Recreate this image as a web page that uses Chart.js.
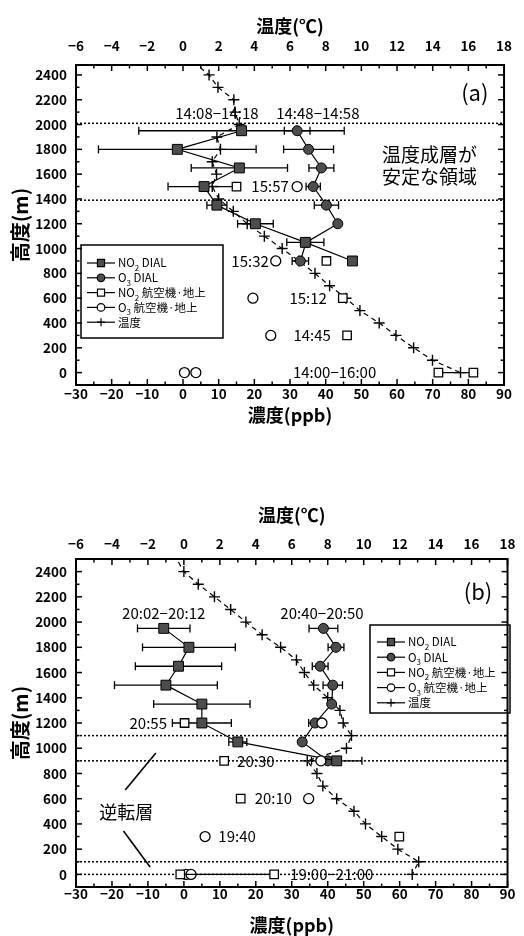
<!DOCTYPE html>
<html>
<head>
<meta charset="utf-8">
<script src="https://cdn.jsdelivr.net/npm/chart.js@4.4.1/dist/chart.umd.min.js"></script>
<style>
html, body { margin: 0; padding: 0; background: #fff; }
.panel { position: absolute; left: 0; width: 524px; height: 468px; }
#pa { top: 0; }
#pb { top: 468px; }
</style>
</head>
<body>
<div class="panel" id="pa"><canvas id="chartA" width="524" height="468"></canvas></div>
<div class="panel" id="pb"><canvas id="chartB" width="524" height="468"></canvas></div>
<script>
const FONT = "'Noto Sans CJK JP', 'Noto Sans', sans-serif";

// 目盛り
const concTicks = [-30, -20, -10, 0, 10, 20, 30, 40, 50, 60, 70, 80, 90];
const tempTicks = [-6, -4, -2, 0, 2, 4, 6, 8, 10, 12, 14, 16, 18];
const heightTicks = [0, 200, 400, 600, 800, 1000, 1200, 1400, 1600, 1800, 2000, 2200, 2400];

// 高度 (m)
const dialHeights = [1950, 1800, 1650, 1500, 1350, 1200, 1050, 900];
const tempHeights = [2600, 2400, 2300, 2200, 2100, 2000, 1900, 1800, 1700, 1600, 1500, 1400, 1300,
                     1200, 1100, 1000, 900, 800, 700, 600, 500, 400, 300, 200, 100, 0];

// (a) 昼間
const no2DialA    = [16.4, -1.6, 15.8, 5.9, 9.5, 20.3, 34.3, 47.5];
const no2DialErrA = [28.8, 22.1, 13.5, 10.1, 2.8, 5.0, 5.2, 0];
const o3DialA     = [32.0, 35.2, 38.8, 36.5, 40.2, 43.4, 34.5, 32.9];
const o3DialErrA  = [3.6, 7.0, 3.5, 2.0, 3.4, 0, 0, 2.3];
const no2AirHA    = [1500, 900, 600, 300];
const no2AirA     = [15.0, 40.2, 44.8, 46.0];
const no2GroundA  = [71.6, 81.4];
const o3AirHA     = [1500, 900, 600, 300, 0, 0];
const o3AirA      = [32.0, 26.0, 19.6, 24.6, 0.4, 3.6];
const tempA = [-0.2, 1.46, 1.96, 2.85, 2.92, 3.15, 1.9, 2.1, 1.64, 1.88, 1.64, 2.0, 2.82,
               3.6, 4.56, 5.56, 6.5, 7.4, 8.22, 9.14, 9.92, 11.0, 11.94, 12.93, 13.99, 15.56];

// (b) 夜間
const no2DialB    = [-5.6, 1.4, -1.5, -5.0, 5.0, 5.0, 15.0, 42.5];
const no2DialErrB = [7.3, 12.9, 12.0, 14.3, 13.4, 8.2, 2.5, 7.0];
const o3DialB     = [38.8, 42.3, 37.9, 41.4, 41.1, 36.5, 32.9, 40.0];
const o3DialErrB  = [4.0, 2.2, 2.2, 2.7, 0, 1.8, 0, 0];
const no2AirHB    = [1200, 900, 600, 300];
const no2AirB     = [0.2, 11.2, 15.8, 59.9];
const no2GroundB  = [-1.0, 25.1];
const o3AirHB     = [1200, 900, 600, 300, 0, 0];
const o3AirB      = [38.4, 38.1, 34.7, 5.9, 0.6, 2.0];
const tempB = [-0.8, 0.0, 0.8, 1.7, 2.6, 3.45, 4.35, 5.38, 6.26, 6.7, 7.22, 8.0, 8.68,
               8.86, 9.32, 9.04, 6.86, 7.4, 7.73, 8.5, 9.46, 10.1, 11.0, 11.9, 13.06, 12.7];

// 注記 (濃度, 高度)
const notesA = [
  { text: '14:08−14:18', x: 9.5, y: 2093 },
  { text: '14:48−14:58', x: 37.8, y: 2093 },
  { text: '15:57', x: 24.4, y: 1500 },
  { text: '15:32', x: 18.8, y: 900 },
  { text: '15:12', x: 35.1, y: 600 },
  { text: '14:45', x: 36.2, y: 300 },
  { text: '14:00−16:00', x: 42.5, y: 5 },
  { text: '(a)', x: 81.8, y: 2255, size: 22 },
  { text: '温度成層が', x: 69.1, y: 1755, size: 19 },
  { text: '安定な領域', x: 69.1, y: 1577, size: 19 }
];
const notesB = [
  { text: '20:02−20:12', x: -5.6, y: 2073 },
  { text: '20:40−20:50', x: 38.4, y: 2073 },
  { text: '20:55', x: -9.9, y: 1200 },
  { text: '20:30', x: 20.0, y: 900 },
  { text: '20:10', x: 24.9, y: 600 },
  { text: '19:40', x: 14.8, y: 300 },
  { text: '19:00−21:00', x: 41.1, y: 0 },
  { text: '(b)', x: 81.8, y: 2239, size: 22 },
  { text: '逆転層', x: -16, y: 495, size: 18 }
];
const refLinesA = [2010, 1390];
const refLinesB = [1100, 900, 100, 0];
const pointersB = [[-16.3, 669, -7.8, 962], [-16.8, 344, -9.4, 59]];

const legendItems = [
  { parts: ['NO', '2', ' DIAL'], style: 'rect', fill: '#4d4d4d', r: 5 },
  { parts: ['O', '3', ' DIAL'], style: 'circle', fill: '#4d4d4d', r: 3.8 },
  { parts: ['NO', '2', ' 航空機·地上'], style: 'rect', fill: '#fff', r: 5 },
  { parts: ['O', '3', ' 航空機·地上'], style: 'circle', fill: '#fff', r: 3.8 },
  { parts: ['温度', '', ''], style: 'cross', fill: '#fff', r: 4 }
];

function line(ctx, x1, y1, x2, y2) {
  ctx.beginPath();
  ctx.moveTo(x1, y1);
  ctx.lineTo(x2, y2);
  ctx.stroke();
}

const fmt = v => String(v).replace('-', '−');
const pts = (xs, ys) => xs.map((v, i) => ({ x: v, y: ys[i] }));

function buildPanel(id, p) {
  const dial = {
    showLine: true, borderColor: '#000', borderWidth: 1.2,
    pointBackgroundColor: '#4d4d4d', pointBorderColor: '#000', pointBorderWidth: 1, order: 2
  };
  const air = {
    borderColor: '#000', borderWidth: 1.2,
    pointBackgroundColor: '#fff', pointBorderColor: '#000', pointBorderWidth: 1.3, order: 1
  };
  const datasets = [
    Object.assign({ data: pts(p.no2Dial, dialHeights), pointStyle: 'rect', pointRadius: 7 }, dial),
    Object.assign({ data: pts(p.o3Dial, dialHeights), pointStyle: 'circle', pointRadius: 5 }, dial),
    Object.assign({ data: pts(p.no2Air, p.no2AirH), showLine: false, pointStyle: 'rect', pointRadius: 6 }, air),
    Object.assign({ data: pts(p.no2Ground, [0, 0]), showLine: true, pointStyle: 'rect', pointRadius: 6 }, air),
    Object.assign({ data: pts(p.o3Air, p.o3AirH), showLine: false, pointStyle: 'circle', pointRadius: 5 }, air),
    {
      data: pts(p.temp, tempHeights), xAxisID: 'x2', showLine: true, order: 3, clip: 0,
      borderColor: '#000', borderWidth: 1.2, borderDash: [5, 4],
      pointStyle: 'cross', pointRadius: 5.5, pointBorderColor: '#000', pointBorderWidth: 1.4
    }
  ];

  const decor = {
    id: 'decor' + id,
    beforeDatasetsDraw(chart) {
      const { ctx, chartArea: a } = chart;
      const sx = chart.scales.x, sy = chart.scales.y;
      ctx.save();
      ctx.strokeStyle = '#000';
      ctx.lineWidth = 1.3;
      [[p.no2Dial, p.no2Err], [p.o3Dial, p.o3Err]].forEach(([vals, errs]) => {
        vals.forEach((v, i) => {
          if (!errs[i]) return;
          const y = sy.getPixelForValue(dialHeights[i]);
          const x1 = sx.getPixelForValue(v - errs[i]);
          const x2 = sx.getPixelForValue(v + errs[i]);
          line(ctx, x1, y, x2, y);
          line(ctx, x1, y - 4, x1, y + 4);
          line(ctx, x2, y - 4, x2, y + 4);
        });
      });
      ctx.setLineDash([2, 2]);
      ctx.lineWidth = 1.5;
      p.refLines.forEach(h => {
        const y = sy.getPixelForValue(h);
        line(ctx, a.left, y, a.right, y);
      });
      ctx.restore();
    },
    afterDatasetsDraw(chart) {
      const { ctx } = chart;
      const sx = chart.scales.x, sy = chart.scales.y;
      ctx.save();
      ctx.fillStyle = '#000';
      ctx.strokeStyle = '#000';
      ctx.textAlign = 'center';
      ctx.textBaseline = 'middle';
      p.notes.forEach(n => {
        ctx.font = `${n.size || 15}px ${FONT}`;
        ctx.fillText(n.text, sx.getPixelForValue(n.x), sy.getPixelForValue(n.y));
      });
      ctx.lineWidth = 1.6;
      (p.pointers || []).forEach(q => {
        line(ctx, sx.getPixelForValue(q[0]), sy.getPixelForValue(q[1]),
                  sx.getPixelForValue(q[2]), sy.getPixelForValue(q[3]));
      });

      // 凡例
      const L = p.legend;
      ctx.fillStyle = '#fff';
      ctx.fillRect(L.x, L.y, L.w, L.h);
      ctx.lineWidth = 1.5;
      ctx.strokeRect(L.x, L.y, L.w, L.h);
      ctx.textAlign = 'left';
      legendItems.forEach((it, i) => {
        const y = L.row0 + i * L.dy;
        ctx.lineWidth = 1.2;
        line(ctx, L.lx0, y, L.lx1, y);
        ctx.fillStyle = it.fill;
        Chart.helpers.drawPoint(ctx, { pointStyle: it.style, radius: it.r, rotation: 0, borderWidth: 1.2 },
          (L.lx0 + L.lx1) / 2, y);
        ctx.fillStyle = '#000';
        let x = L.tx;
        ctx.font = `11.5px ${FONT}`;
        ctx.fillText(it.parts[0], x, y);
        x += ctx.measureText(it.parts[0]).width;
        ctx.font = `8px ${FONT}`;
        ctx.fillText(it.parts[1], x, y + 5);
        x += ctx.measureText(it.parts[1]).width;
        ctx.font = `11.5px ${FONT}`;
        ctx.fillText(it.parts[2], x, y);
      });
      ctx.restore();
    },
    afterDraw(chart) {
      const { ctx, chartArea: a } = chart;
      const sx = chart.scales.x, st = chart.scales.x2, sy = chart.scales.y;
      ctx.save();
      ctx.strokeStyle = '#000';
      ctx.lineWidth = 1.5;
      for (let v = sx.min; v <= sx.max; v += 5) {
        const x = sx.getPixelForValue(v);
        line(ctx, x, a.bottom, x, a.bottom - (v % 10 === 0 ? 6 : 3.5));
      }
      for (let t = st.min; t <= st.max; t += 1) {
        const x = st.getPixelForValue(t);
        line(ctx, x, a.top, x, a.top + (t % 2 === 0 ? 6 : 3.5));
      }
      for (let h = -100; h <= sy.max; h += 100) {
        const y = sy.getPixelForValue(h);
        const len = h % 200 === 0 ? 6 : 3.5;
        line(ctx, a.left, y, a.left + len, y);
        line(ctx, a.right, y, a.right - len, y);
      }
      ctx.lineWidth = 2;
      ctx.strokeRect(a.left, a.top, a.right - a.left, a.bottom - a.top);
      ctx.restore();
    }
  };

  const tickFont = { family: FONT, size: 13.5, weight: 'bold', lineHeight: 1 };
  const titleFont = { family: FONT, size: 18, weight: 'bold', lineHeight: 1.2 };

  return new Chart(document.getElementById(id), {
    type: 'scatter',
    data: { datasets },
    options: {
      responsive: false,
      animation: false,
      devicePixelRatio: 1,
      events: [],
      layout: { padding: { left: 0, right: 11, top: 0, bottom: 0 } },
      plugins: { legend: { display: false }, tooltip: { enabled: false } },
      scales: {
        x: {
          type: 'linear', position: 'bottom', min: -30, max: 90,
          afterBuildTicks: s => { s.ticks = concTicks.map(v => ({ value: v })); },
          afterFit: s => { s.height = p.botH; },
          grid: { display: false, drawTicks: false }, border: { display: false },
          ticks: { font: tickFont, color: '#000', padding: p.botPad, maxRotation: 0, callback: fmt },
          title: { display: true, text: '濃度(ppb)', color: '#000', font: titleFont,
                   padding: { top: 0, bottom: p.botTitlePad } }
        },
        x2: {
          type: 'linear', position: 'top', min: -6, max: 18,
          afterBuildTicks: s => { s.ticks = tempTicks.map(v => ({ value: v })); },
          afterFit: s => { s.height = p.topH; },
          grid: { display: false, drawTicks: false }, border: { display: false },
          ticks: { font: tickFont, color: '#000', padding: p.topPad, maxRotation: 0, callback: fmt },
          title: { display: true, text: '温度(℃)', color: '#000', font: titleFont,
                   padding: { top: p.topTitlePad, bottom: 0 } }
        },
        y: {
          type: 'linear', position: 'left', min: -100, max: p.yMax,
          afterBuildTicks: s => { s.ticks = heightTicks.map(v => ({ value: v })); },
          afterFit: s => { s.width = 76; },
          grid: { display: false, drawTicks: false }, border: { display: false },
          ticks: { font: tickFont, color: '#000', padding: 9, callback: v => String(v) },
          title: { display: true, text: '高度(m)', color: '#000',
                   font: { family: FONT, size: 20, weight: 'bold', lineHeight: 1.2 },
                   padding: { top: 8, bottom: 0 } }
        }
      }
    },
    plugins: [decor]
  });
}

buildPanel('chartA', {
  no2Dial: no2DialA, no2Err: no2DialErrA, o3Dial: o3DialA, o3Err: o3DialErrA,
  no2Air: no2AirA, no2AirH: no2AirHA, no2Ground: no2GroundA,
  o3Air: o3AirA, o3AirH: o3AirHA, temp: tempA,
  notes: notesA, refLines: refLinesA, pointers: [],
  yMax: 2480, topH: 65, botH: 83, topPad: 12, botPad: 2, topTitlePad: 15, botTitlePad: 42,
  legend: { x: 81, y: 245, w: 142, h: 93, row0: 263, dy: 14.8, lx0: 87, lx1: 115, tx: 118 }
});

buildPanel('chartB', {
  no2Dial: no2DialB, no2Err: no2DialErrB, o3Dial: o3DialB, o3Err: o3DialErrB,
  no2Air: no2AirB, no2AirH: no2AirHB, no2Ground: no2GroundB,
  o3Air: o3AirB, o3AirH: o3AirHB, temp: tempB,
  notes: notesB, refLines: refLinesB, pointers: pointersB,
  yMax: 2500, topH: 91, botH: 49, topPad: 8.5, botPad: 0, topTitlePad: 36, botTitlePad: 0,
  legend: { x: 370, y: 157, w: 140, h: 88, row0: 174, dy: 15.2, lx0: 377, lx1: 405, tx: 408 }
});
</script>
</body>
</html>
